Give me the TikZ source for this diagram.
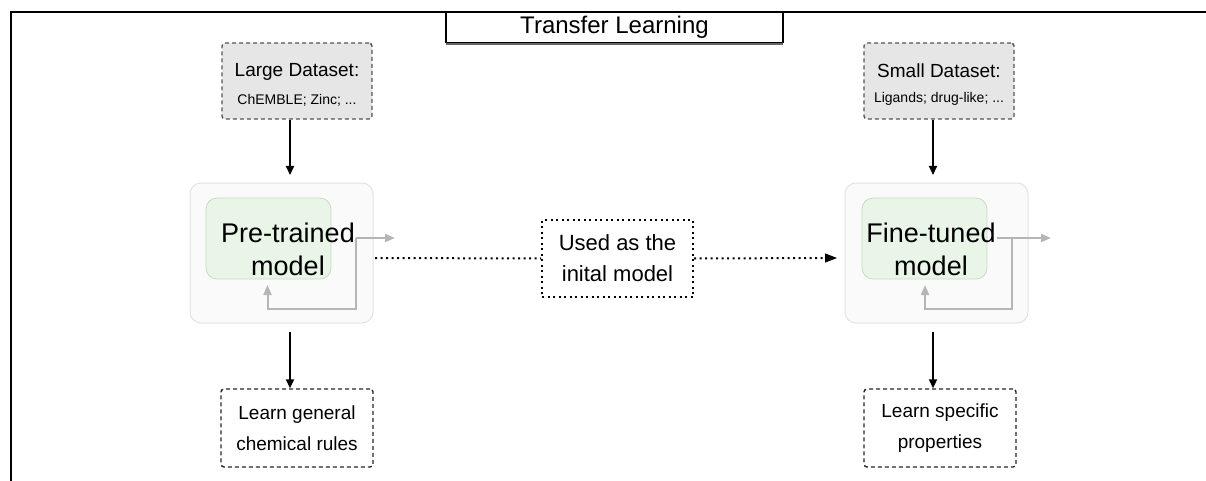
\documentclass[tikz,border=0pt]{standalone}
\usepackage{fontspec}
\setmainfont{Liberation Sans}
\usetikzlibrary{arrows.meta}
\definecolor{dsfill}{HTML}{E6E6E6}
\definecolor{dsdraw}{HTML}{555555}
\definecolor{modfill}{HTML}{FAFAFA}
\definecolor{moddraw}{HTML}{E2E2E2}
\definecolor{corefill}{HTML}{E9F5E6}
\definecolor{coredraw}{HTML}{C9DCC6}
\definecolor{loopgray}{HTML}{B5B5B5}
\newcommand{\fsz}[1]{\fontsize{#1}{#1}\selectfont}
\tikzset{
  titlebox/.style={draw=black, line width=1.3pt, fill=white, minimum width=337pt,
    minimum height=30pt, inner sep=0pt, font=\fsz{24}},
  dotline/.style={line width=2pt, dash pattern=on 2pt off 3.5pt},
  dashline/.style={line width=1.4pt, dash pattern=on 4pt off 3pt},
  dataset/.style={draw=dsdraw, dashline, fill=dsfill,
    rounded corners=3pt, minimum width=150pt, minimum height=76pt,
    inner sep=0pt, align=center},
  resultbox/.style={draw=black!85, dashline, rounded corners=3pt,
    minimum width=152pt, minimum height=78pt, inner sep=0pt, align=center,
    font=\fsz{19}},
  linkbox/.style={draw=black, dotline, fill=white,
    minimum width=151pt, minimum height=77pt, inner sep=0pt, align=center,
    font=\fsz{22}},
  module/.style={draw=moddraw, line width=1pt, fill=modfill, rounded corners=11pt,
    minimum width=183pt, minimum height=140pt, inner sep=0pt},
  core/.style={draw=coredraw, line width=0.8pt, fill=corefill, rounded corners=11pt,
    minimum width=125pt, minimum height=81pt, inner sep=0pt},
  modtext/.style={align=center, inner sep=0pt, font=\fsz{27}},
  flow/.style={-{Triangle[length=9pt,width=8pt]}, line width=1.8pt, black},
  loopline/.style={line width=2pt, loopgray},
  looparrow/.style={loopline, -{Triangle[length=10pt,width=8pt]}},
}
\begin{document}
\begin{tikzpicture}[x=1pt, y=-1pt]
\useasboundingbox (0,0) rectangle (1206,481);

% frame
\draw[line width=2pt] (10.5,481) -- (10.5,12.5) -- (1206,12.5);
\node[titlebox] (title) at (614.5,27.5) {Transfer Learning};
\draw[line width=1.5pt, black!60] (title.south west) ++(1,0.8) -- ([shift={(-1,0.8)}]title.south east);

% datasets
\node[dataset] (large) at (297,81)
  {{\fsz{19}\rule{0pt}{21pt}Large Dataset:}\\[13pt]{\fsz{14}ChEMBLE; Zinc; ...}};
\node[dataset] (small) at (939,81)
  {{\fsz{19}\rule{0pt}{21pt}Small Dataset:}\\[13pt]{\fsz{14}Ligands; drug-like; ...}};

% models
\node[module] (premod) at (281.5,253) {};
\node[core] (precore) at (268.5,238.5) {};
\node[modtext] (pretext) at (288,249) {Pre-trained\\[6pt]model};

\node[module] (finemod) at (936.5,253) {};
\node[core] (finecore) at (924.5,238.5) {};
\node[modtext] (finetext) at (931,249) {Fine-tuned\\[6pt]model};

% feedback loops
\coordinate (preO) at (356,238);
\coordinate (preE) at (395,238);
\coordinate (preB) at (356,308.5);
\coordinate (preL) at (267.5,308.5);
\coordinate (preT) at (267.5,285);
\draw[looparrow] (preO) -- (preE);
\draw[looparrow] (preO) -- (preB) -- (preL) -- (preT);

\coordinate (fineO) at (1012,238);
\coordinate (fineS) at (997,238);
\coordinate (fineE) at (1051,238);
\coordinate (fineB) at (1012,308.5);
\coordinate (fineL) at (925,308.5);
\coordinate (fineT) at (925,285);
\draw[looparrow] (fineS) -- (fineE);
\draw[looparrow] (fineO) -- (fineB) -- (fineL) -- (fineT);

% transfer link
\node[linkbox] (link) at (617.5,258.5) {Used as the\\[9pt]inital model};
\coordinate (linkS) at (375,258);
\coordinate (linkE) at (837,258);
\draw[dotline] (linkS) -- (link.west);
\draw[dotline] (link.east) -- ([xshift=-10pt]linkE);
\draw[-{Triangle[length=12pt,width=9pt]}, line width=1pt] ([xshift=-12pt]linkE) -- (linkE);

% outcomes
\node[resultbox] (general) at (297,428) {Learn general\\[12pt]chemical rules};
\node[resultbox] (specific) at (940,428) {Learn specific\\[12pt]properties};

% vertical flow
\coordinate (preTop) at (290,119);
\coordinate (preIn) at (290,175);
\coordinate (fineTop) at (933,119);
\coordinate (fineIn) at (933,175);
\draw[flow] (large.south -| preTop) -- (preIn);
\draw[flow] (small.south -| fineTop) -- (fineIn);
\draw[flow] (premod.south -| preTop) ++(0,8) -- (general.north -| preTop);
\draw[flow] (finemod.south -| fineTop) ++(0,8) -- (specific.north -| fineTop);
\end{tikzpicture}
\end{document}
